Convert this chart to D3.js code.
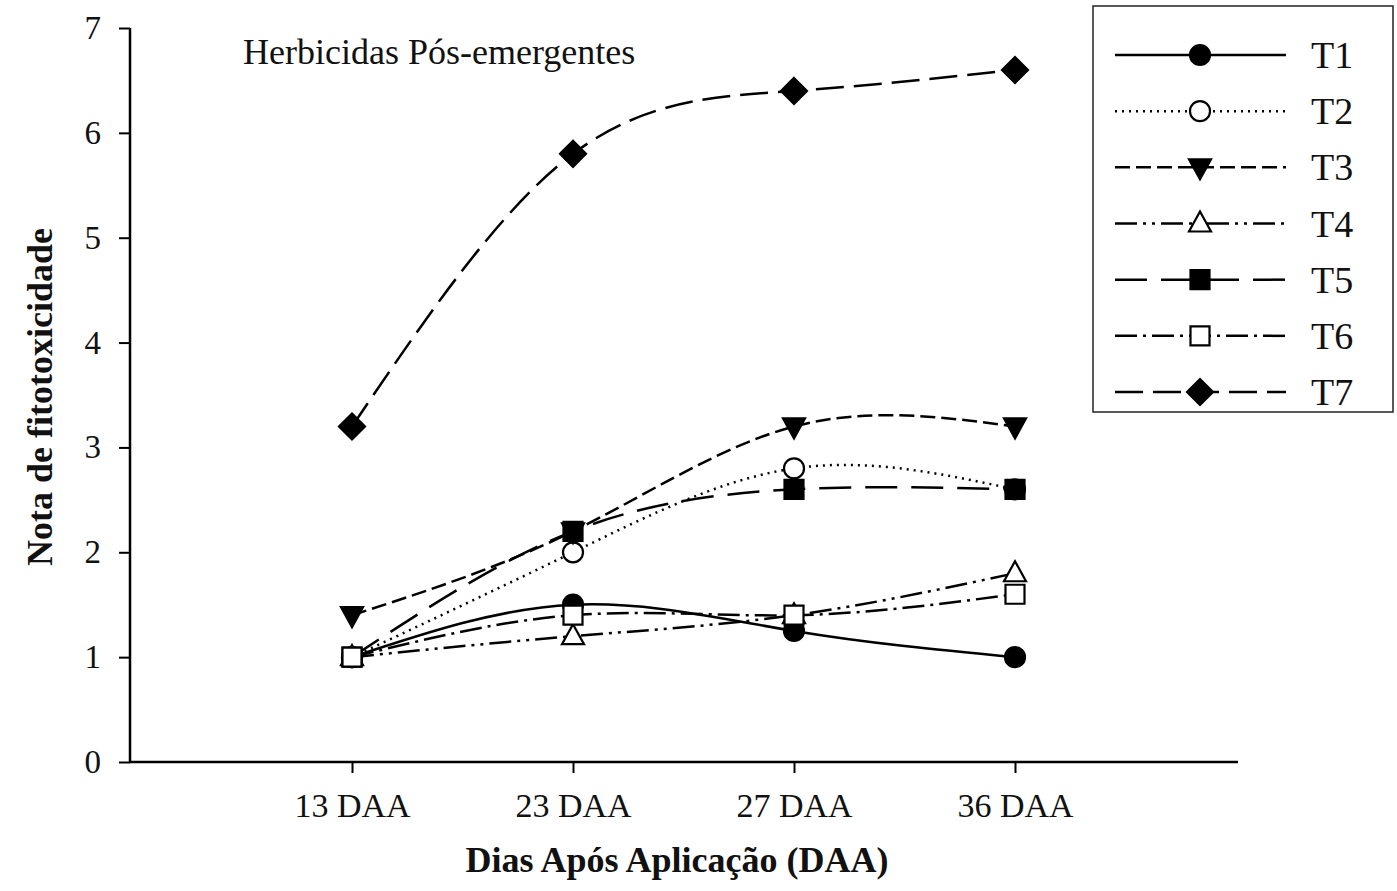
<!DOCTYPE html>
<html>
<head>
<meta charset="utf-8">
<script src="https://cdn.jsdelivr.net/npm/d3@7"></script>
<style>
  html, body { margin: 0; padding: 0; background: #fff; }
  svg { display: block; }
  text { font-family: "Liberation Serif", "Times New Roman", serif; fill: #111; }
</style>
</head>
<body>
<svg id="chart" width="1397" height="891"></svg>
<script>
// ---- data ----
const categories = ["13 DAA", "23 DAA", "27 DAA", "36 DAA"];
const seriesNames = ["T1", "T2", "T3", "T4", "T5", "T6", "T7"];
const T1 = [1.0, 1.5, 1.25, 1.0];
const T2 = [1.0, 2.0, 2.8, 2.6];
const T3 = [1.4, 2.2, 3.2, 3.2];
const T4 = [1.0, 1.2, 1.4, 1.8];
const T5 = [1.0, 2.2, 2.6, 2.6];
const T6 = [1.0, 1.4, 1.4, 1.6];
const T7 = [3.2, 5.8, 6.4, 6.6];
const yTicks = [0, 1, 2, 3, 4, 5, 6, 7];
const xLabel = "Dias Após Aplicação (DAA)";
const yLabel = "Nota de fitotoxicidade";
const annotation = "Herbicidas Pós-emergentes";

// ---- styles ----
const styles = {
  T1: { dash: null,                 marker: "circle",   fill: "#000" },
  T2: { dash: "2,5",                marker: "circle",   fill: "#fff" },
  T3: { dash: "15,6",               marker: "triDown",  fill: "#000" },
  T4: { dash: "22,6,3,6,3,6",       marker: "triUp",    fill: "#fff" },
  T5: { dash: "32,14",              marker: "square",   fill: "#000" },
  T6: { dash: "22,6,3,6",           marker: "square",   fill: "#fff" },
  T7: { dash: "28,10",              marker: "diamond",  fill: "#000" }
};
const seriesData = { T1, T2, T3, T4, T5, T6, T7 };

const svg = d3.select("#chart");

const x = d3.scaleLinear().domain([0, 5]).range([131, 1236]);
const y = d3.scaleLinear().domain([0, 7]).range([762, 28]);

function markerPath(type, cx, cy) {
  const p = d3.path();
  if (type === "circle") {
    p.arc(cx, cy, 10, 0, 2 * Math.PI);
  } else if (type === "triDown") {
    p.moveTo(cx - 11, cy - 8); p.lineTo(cx + 11, cy - 8); p.lineTo(cx, cy + 12); p.closePath();
  } else if (type === "triUp") {
    p.moveTo(cx - 11, cy + 8); p.lineTo(cx + 11, cy + 8); p.lineTo(cx, cy - 12); p.closePath();
  } else if (type === "square") {
    p.rect(cx - 9.5, cy - 9.5, 19, 19);
  } else if (type === "diamond") {
    p.moveTo(cx, cy - 13); p.lineTo(cx + 13, cy); p.lineTo(cx, cy + 13); p.lineTo(cx - 13, cy); p.closePath();
  }
  return p.toString();
}

// ---- axes ----
const yAxis = d3.axisLeft(y).tickValues(yTicks).tickSize(11).tickSizeOuter(0).tickPadding(18).tickFormat(d3.format("d"));
const gy = svg.append("g").attr("transform", "translate(130,0)").call(yAxis);
gy.select(".domain").attr("stroke", "#000").attr("stroke-width", 2.5).attr("d", `M0,${y(7)}V${y(0)}`);
gy.selectAll(".tick line").attr("stroke", "#000").attr("stroke-width", 2);
gy.selectAll(".tick text").style("font-size", "33px").style("font-family", "Liberation Serif, serif").attr("fill", "#111");

const xAxis = d3.axisBottom(x).tickValues([1, 2, 3, 4]).tickSize(11).tickSizeOuter(0).tickPadding(20)
  .tickFormat(d => categories[d - 1]);
const gx = svg.append("g").attr("transform", `translate(0,${y(0)})`).call(xAxis);
gx.select(".domain").attr("stroke", "#000").attr("stroke-width", 2.5).attr("d", `M129,0H1238`);
gx.selectAll(".tick line").attr("stroke", "#000").attr("stroke-width", 2);
gx.selectAll(".tick text").style("font-size", "34px").style("font-family", "Liberation Serif, serif").attr("fill", "#111");

// ---- axis titles ----
svg.append("text").attr("x", 677).attr("y", 872).attr("text-anchor", "middle")
  .style("font-size", "36px").style("font-weight", "bold").text(xLabel);
svg.append("text").attr("transform", "translate(52,397) rotate(-90)").attr("text-anchor", "middle")
  .style("font-size", "36px").style("font-weight", "bold").text(yLabel);

svg.append("text").attr("x", 243).attr("y", 64).style("font-size", "36px").text(annotation);

// ---- lines ----
const line = d3.line().x((d, i) => x(i + 1)).y(d => y(d)).curve(d3.curveNatural);
seriesNames.forEach(name => {
  svg.append("path").datum(seriesData[name]).attr("d", line)
    .attr("fill", "none").attr("stroke", "#000").attr("stroke-width", 2.5)
    .attr("stroke-dasharray", styles[name].dash);
});
seriesNames.forEach(name => {
  const st = styles[name];
  svg.append("g").selectAll("path").data(seriesData[name]).join("path")
    .attr("d", (d, i) => markerPath(st.marker, x(i + 1), y(d)))
    .attr("fill", st.fill).attr("stroke", "#000").attr("stroke-width", 2.2);
});

// ---- legend ----
const lg = svg.append("g");
lg.append("rect").attr("x", 1093).attr("y", 6).attr("width", 300).attr("height", 406)
  .attr("fill", "#fff").attr("stroke", "#222").attr("stroke-width", 1.5);
const ly = d3.scalePoint().domain(seriesNames).range([55, 392]);
seriesNames.forEach(name => {
  const st = styles[name];
  const yy = ly(name);
  lg.append("line").attr("x1", 1115).attr("x2", 1286).attr("y1", yy).attr("y2", yy)
    .attr("stroke", "#000").attr("stroke-width", 2.5).attr("stroke-dasharray", st.dash);
  lg.append("path").attr("d", markerPath(st.marker, 1200, yy))
    .attr("fill", st.fill).attr("stroke", "#000").attr("stroke-width", 2.2);
  lg.append("text").attr("x", 1311).attr("y", yy + 13).style("font-size", "38px").text(name);
});
</script>
</body>
</html>
